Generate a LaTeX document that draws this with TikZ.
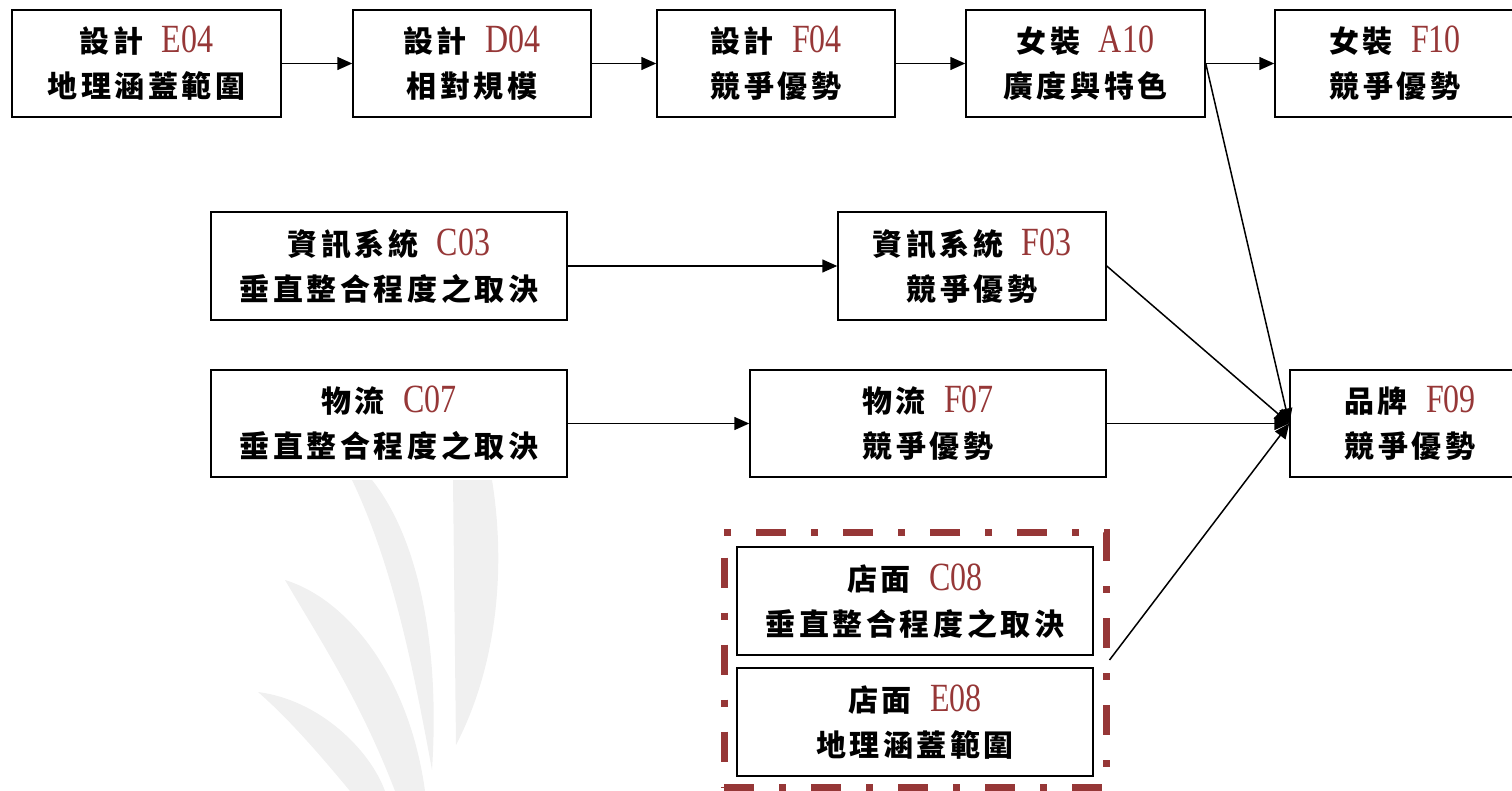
\documentclass[tikz,border=0pt]{standalone}
\usepackage{fontspec}
\setmainfont{Liberation Serif}
\newfontfamily\cjk[LetterSpace=12]{Noto Sans CJK TC}
\newfontfamily\codefont[FakeStretch=0.8]{Liberation Serif}
\usetikzlibrary{arrows.meta}
\definecolor{brick}{RGB}{150,55,55}
\definecolor{leaf}{RGB}{240,240,240}
\newcommand{\cd}[1]{\hspace{8pt}{\codefont\mdseries\fontsize{40}{40}\selectfont\color{brick}#1}}
\tikzset{
  box/.style={draw=black, line width=1.5pt, fill=white, inner sep=0pt, align=center,
    font=\cjk\bfseries\fontsize{30}{45}\selectfont},
  conn/.style={line width=1.5pt, -{Triangle[length=15pt,width=13pt]}},
  grpbox/.style={draw=brick, line width=7pt, dash pattern=on 30pt off 25pt on 7pt off 25pt, inner sep=0pt},
}
\newcommand{\bx}[7]{\node[box, minimum width=#4pt, minimum height=#5pt] (#1) at (#2,#3) {\raisebox{-2pt}{#6}\\\raisebox{-2pt}{#7}};}
\begin{document}
\begin{tikzpicture}[x=1pt,y=-1pt]
\useasboundingbox (0,0) rectangle (1512,791);
% watermark leaves
\fill[leaf] (453,480) -- (492,480) .. controls (505,560) and (500,660) .. (456,745) -- cycle;
\fill[leaf] (352,480) -- (372,480) .. controls (420,540) and (440,650) .. (432,770) .. controls (410,650) and (390,560) .. (352,480) -- cycle;
\fill[leaf] (285,580) .. controls (350,600) and (410,680) .. (425,791) -- (395,791) .. controls (360,700) and (320,640) .. (285,580) -- cycle;
\fill[leaf] (258,692) .. controls (320,700) and (370,750) .. (385,791) -- (350,791) .. controls (320,755) and (290,720) .. (258,692) -- cycle;
% top row
\bx{e04}{146.5}{63.5}{269}{107}{設計 \cd{E04}}{地理涵蓋範圍}
\bx{d04}{472}{63.5}{238}{107}{設計 \cd{D04}}{相對規模}
\bx{f04}{776}{63.5}{238}{107}{設計 \cd{F04}}{競爭優勢}
\bx{a10}{1085.5}{63.5}{239}{107}{女裝 \cd{A10}}{廣度與特色}
\bx{f10}{1395}{63.5}{240}{107}{女裝 \cd{F10}}{競爭優勢}
% middle rows
\bx{c03}{389}{266}{356}{108}{資訊系統 \cd{C03}}{垂直整合程度之取決}
\bx{f03}{972}{266}{268}{108}{資訊系統 \cd{F03}}{競爭優勢}
\bx{c07}{389}{423.5}{356}{107}{物流 \cd{C07}}{垂直整合程度之取決}
\bx{f07}{928}{423.5}{356}{107}{物流 \cd{F07}}{競爭優勢}
\bx{f09}{1410}{423.5}{240}{107}{品牌 \cd{F09}}{競爭優勢}
% group
\node[grpbox, minimum width=382pt, minimum height=255pt] (grp) at (915,660) {};
\bx{c08}{915}{601}{356}{108}{店面 \cd{C08}}{垂直整合程度之取決}
\bx{e08}{915}{722}{356}{108}{店面 \cd{E08}}{地理涵蓋範圍}
% connectors
\draw[conn] (e04) -- (d04);
\draw[conn] (d04) -- (f04);
\draw[conn] (f04) -- (a10);
\draw[conn] (a10) -- (f10);
\draw[conn] (c03) -- (f03);
\draw[conn] (c07) -- (f07);
\draw[conn] (f07) -- (f09.west);
\draw[conn] (f03.east) -- (f09.west);
\draw[conn] (a10.east) -- (f09.west);
\draw[conn] (grp.east) -- (f09.west);
\end{tikzpicture}
\end{document}
